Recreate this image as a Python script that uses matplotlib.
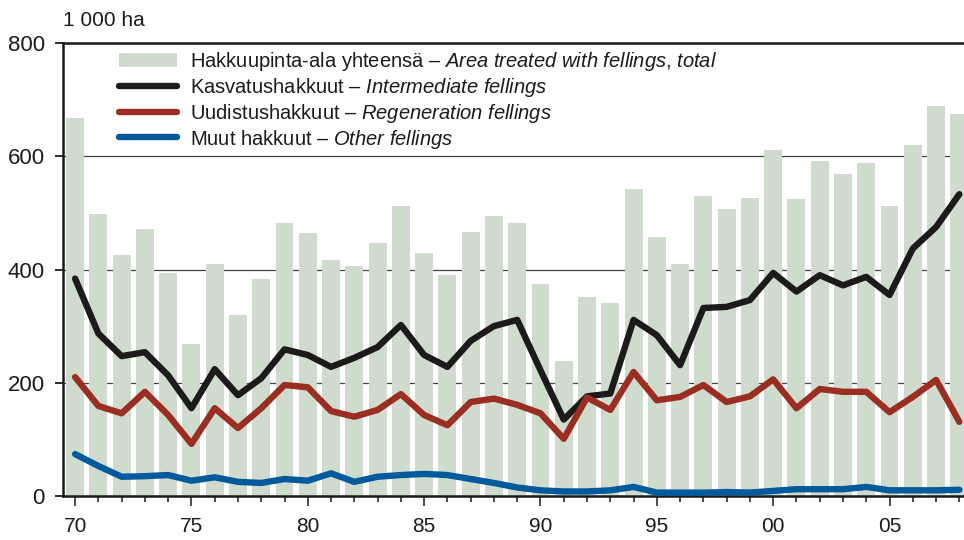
import matplotlib
matplotlib.use("Agg")
import matplotlib.pyplot as plt
from matplotlib import font_manager as fm
from matplotlib.lines import Line2D
from matplotlib.patches import Patch
from matplotlib.ticker import FixedLocator, MultipleLocator

names = {f.name for f in fm.fontManager.ttflist}
FONT = 'Liberation Sans Narrow' if 'Liberation Sans Narrow' in names else 'Liberation Sans'
plt.rcParams['font.family'] = [FONT, 'DejaVu Sans']
plt.rcParams['mathtext.fontset'] = 'custom'
plt.rcParams['mathtext.rm'] = FONT
plt.rcParams['mathtext.it'] = FONT + ':italic'

years = list(range(1970, 2009))
total = [667, 498, 425, 471, 394, 268, 409, 319, 383, 482,
         464, 416, 407, 446, 513, 429, 390, 466, 494, 482,
         374, 238, 351, 340, 542, 457, 409, 529, 506, 526,
         611, 524, 591, 568, 588, 512, 619, 688, 674]
intermediate = [384, 287, 247, 254, 213, 155, 224, 178, 208, 259,
                249, 228, 244, 263, 302, 249, 228, 274, 300, 311,
                222, 135, 176, 181, 311, 284, 231, 332, 334, 346,
                394, 361, 390, 372, 387, 355, 437, 475, 533]
regeneration = [210, 159, 146, 184, 143, 92, 155, 120, 155, 196,
                192, 150, 140, 152, 180, 143, 125, 166, 172, 161,
                146, 101, 174, 152, 219, 169, 175, 196, 166, 176,
                206, 155, 189, 184, 184, 148, 175, 205, 131]
other = [74, 53, 34, 35, 37, 27, 33, 25, 23, 30,
         27, 40, 25, 34, 37, 39, 37, 30, 23, 15,
         10, 8, 8, 10, 16, 6, 6, 6, 7, 6,
         9, 12, 12, 12, 16, 10, 10, 10, 11]

major_years = [1970, 1975, 1980, 1985, 1990, 1995, 2000, 2005]
major_labels = ["70", "75", "80", "85", "90", "95", "00", "05"]
yticks = [0, 200, 400, 600, 800]

labels = [
    r"Hakkuupinta-ala yhteensä – $\it{Area\ treated\ with\ fellings{,}\ total}$",
    r"Kasvatushakkuut – $\it{Intermediate\ fellings}$",
    r"Uudistushakkuut – $\it{Regeneration\ fellings}$",
    r"Muut hakkuut – $\it{Other\ fellings}$",
]

BAR_C = '#cfdccd'
BLACK = '#1c1a1b'
RED = '#9a2e22'
BLUE = '#005a9b'

fig = plt.figure(figsize=(9.64, 5.4), dpi=100)
ax = fig.add_axes([63/964, 1-496/540, 1-63/964, (496-43)/540])

ax.bar(years, total, width=0.77, color=BAR_C, zorder=1)
lw = 4.6
ax.plot(years, intermediate, color=BLACK, lw=lw, solid_capstyle='round', solid_joinstyle='round', zorder=3)
ax.plot(years, regeneration, color=RED, lw=lw, solid_capstyle='round', solid_joinstyle='round', zorder=3)
ax.plot(years, other, color=BLUE, lw=lw, solid_capstyle='round', solid_joinstyle='round', zorder=3)

ax.set_xlim(1969.48, 2008.2)
ax.set_ylim(0, 800)
ax.set_axisbelow(True)
ax.yaxis.grid(True, color='#444444', lw=0.9)
ax.yaxis.set_major_locator(FixedLocator(yticks))
ax.set_yticklabels([str(v) for v in yticks])
ax.xaxis.set_major_locator(FixedLocator(major_years))
ax.set_xticklabels(major_labels)
ax.xaxis.set_minor_locator(MultipleLocator(1))

for s in ['left', 'bottom', 'top']:
    ax.spines[s].set_linewidth(1.8)
    ax.spines[s].set_color('#1c1a1b')
ax.spines['right'].set_visible(False)

ax.tick_params(axis='y', which='major', direction='out', length=6, width=1.3,
               labelsize=16, pad=7, colors='#1c1a1b')
ax.tick_params(axis='x', which='major', direction='out', length=7, width=1.1,
               labelsize=15, pad=8, colors='#1c1a1b')
ax.tick_params(axis='x', which='minor', direction='out', length=4.5, width=1.1, colors='#1c1a1b')

fig.text(63/964, 1-21/540, "1 000 ha", fontsize=15, ha='left', va='center', color='#1c1a1b')

handles = [Patch(facecolor=BAR_C, edgecolor='none'),
           Line2D([], [], color=BLACK, lw=lw, solid_capstyle='round'),
           Line2D([], [], color=RED, lw=lw, solid_capstyle='round'),
           Line2D([], [], color=BLUE, lw=lw, solid_capstyle='round')]
leg = ax.legend(handles, labels, loc='upper left', bbox_to_anchor=((112-63)/901, 1.0),
                frameon=False, fontsize=14.5, handlelength=2.9, handletextpad=0.6,
                labelspacing=0.14, borderaxespad=0.15, borderpad=0.2)
for t in leg.get_texts():
    t.set_color('#1c1a1b')

fig.savefig("out.png", dpi=100)
